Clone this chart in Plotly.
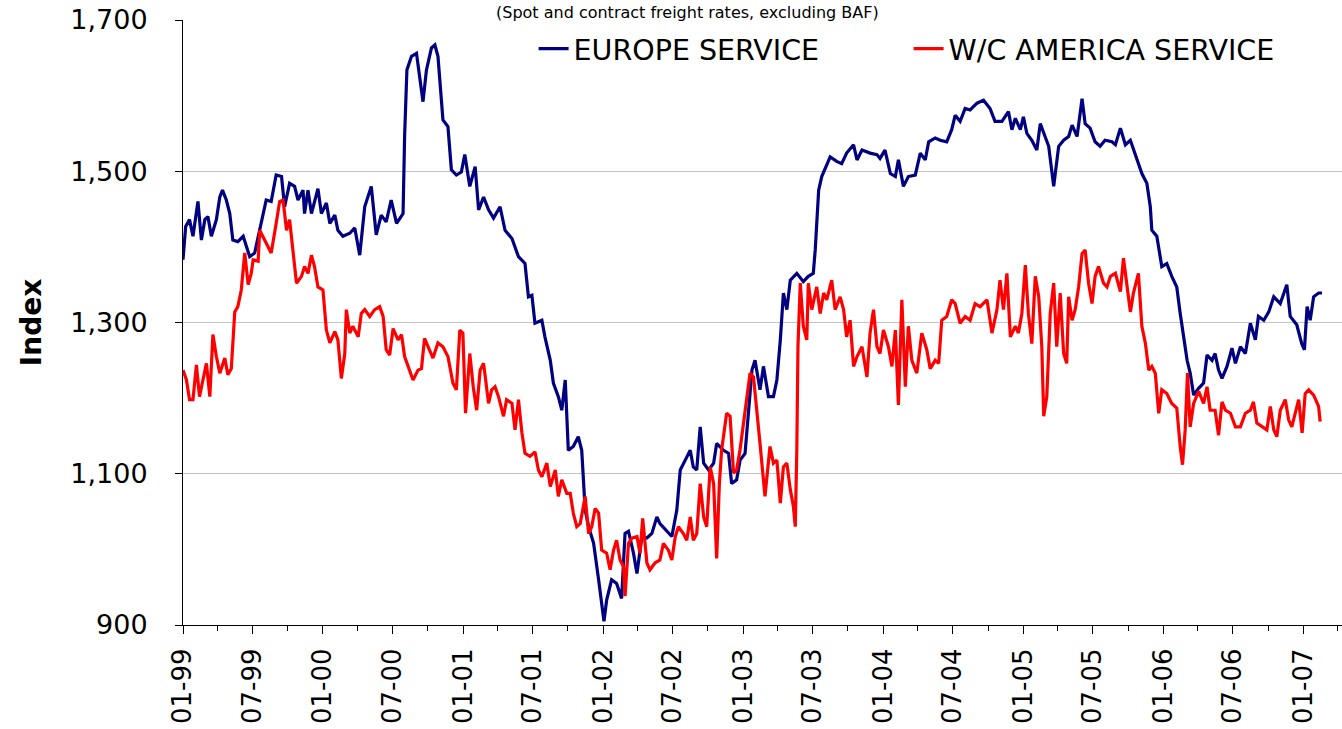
import pandas as pd
import plotly.graph_objects as go

BASE_DATE = "1999-01-01"
TITLE_TEXT = "(Spot and contract freight rates, excluding BAF)"
Y_TITLE = "Index"
SERIES_NAMES = ["EUROPE SERVICE", "W/C AMERICA SERVICE"]
Y_TICKS = [900, 1100, 1300, 1500, 1700]

# Europe service: days since 1 Jan 1999 and index values
eu_day = [0, 7, 17, 26, 39, 48, 57, 65, 74, 87, 96, 103, 113, 122, 130, 143, 157, 174, 187, 200,
          217, 230, 243, 257, 265, 278, 291, 300, 313, 317, 326, 335, 352, 361, 374, 383, 396, 404,
          417, 435, 448, 461, 474, 491, 504, 517, 530, 543, 557, 574, 578, 584, 596, 609, 617, 626,
          635, 648, 657, 665, 678, 691, 700, 713, 726, 735, 748, 762, 771, 784, 797, 810, 827, 840,
          858, 875, 892, 901, 910, 918, 936, 944, 958, 966, 979, 988, 997, 1005, 1018, 1031, 1040,
          1049, 1058, 1071, 1084, 1092, 1098, 1105, 1118, 1131, 1144, 1153, 1162, 1175, 1184, 1197,
          1210, 1223, 1236, 1244, 1258, 1275, 1288, 1297, 1310, 1323, 1331, 1340, 1349, 1358, 1371,
          1384, 1392, 1410, 1423, 1431, 1444, 1453, 1466, 1475, 1484, 1492, 1505, 1514, 1527, 1540,
          1549, 1558, 1566, 1575, 1584, 1601, 1618, 1631, 1644, 1649, 1653, 1658, 1666, 1675, 1688,
          1705, 1718, 1731, 1749, 1758, 1771, 1792, 1810, 1818, 1831, 1845, 1858, 1866, 1879, 1892,
          1910, 1923, 1936, 1945, 1962, 1975, 1992, 2005, 2014, 2027, 2040, 2053, 2071, 2088, 2105,
          2118, 2136, 2153, 2162, 2171, 2184, 2192, 2201, 2214, 2227, 2236, 2249, 2258, 2271, 2284,
          2297, 2310, 2319, 2332, 2345, 2353, 2366, 2379, 2392, 2405, 2423, 2432, 2445, 2458, 2471,
          2479, 2488, 2501, 2514, 2523, 2527, 2540, 2553, 2566, 2579, 2592, 2601, 2610, 2619, 2627,
          2636, 2649, 2662, 2671, 2684, 2692, 2701, 2710, 2723, 2736, 2745, 2758, 2771, 2784, 2797,
          2805, 2819, 2832, 2845, 2862, 2879, 2888, 2905, 2918, 2925, 2932, 2940, 2949, 2962, 2971]
eu_val = [1383, 1427, 1436, 1414, 1460, 1409, 1436, 1440, 1414, 1436, 1466, 1475, 1462, 1444, 1409,
          1407, 1414, 1387, 1392, 1422, 1462, 1460, 1495, 1493, 1453, 1484, 1480, 1462, 1475, 1444,
          1475, 1444, 1477, 1444, 1458, 1431, 1442, 1422, 1414, 1418, 1425, 1389, 1453, 1480, 1416,
          1442, 1433, 1462, 1431, 1444, 1546, 1634, 1652, 1656, 1625, 1592, 1634, 1663, 1667, 1652,
          1568, 1559, 1502, 1495, 1499, 1522, 1480, 1506, 1449, 1466, 1449, 1438, 1453, 1422, 1411,
          1387, 1378, 1334, 1336, 1299, 1303, 1281, 1250, 1220, 1202, 1184, 1224, 1131, 1136, 1149,
          1131, 1052, 1030, 1008, 960, 929, 905, 933, 960, 955, 935, 1021, 1024, 995, 968, 1017,
          1015, 1021, 1043, 1034, 1026, 1017, 1052, 1105, 1118, 1131, 1109, 1105, 1162, 1114, 1105,
          1114, 1140, 1131, 1127, 1087, 1092, 1118, 1127, 1184, 1237, 1250, 1211, 1242, 1202, 1202,
          1224, 1277, 1339, 1317, 1356, 1365, 1354, 1361, 1365, 1396, 1431, 1475, 1493, 1504, 1519,
          1513, 1510, 1524, 1535, 1515, 1528, 1524, 1522, 1517, 1528, 1497, 1493, 1515, 1480, 1493,
          1495, 1524, 1515, 1539, 1544, 1541, 1539, 1555, 1574, 1566, 1583, 1581, 1590, 1594, 1583,
          1566, 1566, 1579, 1555, 1570, 1555, 1572, 1550, 1541, 1528, 1563, 1546, 1533, 1480, 1533,
          1541, 1546, 1561, 1546, 1596, 1563, 1557, 1539, 1533, 1541, 1539, 1535, 1557, 1535, 1541,
          1530, 1515, 1497, 1484, 1453, 1422, 1414, 1374, 1378, 1361, 1347, 1312, 1277, 1250, 1233,
          1204, 1213, 1220, 1257, 1250, 1259, 1237, 1226, 1242, 1266, 1246, 1268, 1259, 1299, 1277,
          1308, 1303, 1314, 1334, 1325, 1350, 1308, 1297, 1272, 1264, 1321, 1303, 1334, 1339, 1339]

# W/C America service: days since 1 Jan 1999 and index values
am_day = [0, 9, 17, 26, 35, 43, 52, 61, 70, 78, 87, 96, 109, 117, 126, 130, 135, 143, 152, 161,
          170, 178, 183, 196, 200, 213, 230, 243, 252, 261, 270, 278, 287, 296, 309, 317, 326, 335,
          343, 352, 365, 374, 383, 396, 404, 413, 422, 426, 435, 443, 457, 465, 474, 487, 500, 513,
          522, 530, 539, 548, 561, 570, 578, 587, 600, 613, 622, 630, 643, 652, 665, 678, 691, 704,
          713, 722, 730, 737, 748, 757, 766, 775, 784, 797, 805, 814, 823, 836, 844, 858, 866, 875,
          884, 892, 905, 918, 927, 936, 949, 958, 971, 979, 988, 1001, 1010, 1018, 1027, 1036, 1049,
          1058, 1066, 1075, 1084, 1092, 1105, 1114, 1123, 1131, 1140, 1149, 1153, 1162, 1171, 1184,
          1192, 1199, 1210, 1218, 1231, 1244, 1253, 1266, 1275, 1284, 1292, 1305, 1314, 1323, 1331,
          1340, 1349, 1358, 1366, 1375, 1384, 1392, 1399, 1405, 1418, 1427, 1436, 1444, 1453, 1462,
          1471, 1479, 1488, 1497, 1505, 1518, 1531, 1540, 1549, 1558, 1566, 1575, 1584, 1592, 1597,
          1601, 1604, 1610, 1618, 1627, 1631, 1640, 1653, 1662, 1671, 1679, 1692, 1701, 1714, 1723,
          1731, 1740, 1749, 1758, 1771, 1784, 1792, 1801, 1810, 1818, 1827, 1840, 1849, 1858, 1866,
          1875, 1884, 1892, 1901, 1914, 1927, 1940, 1949, 1962, 1971, 1979, 1992, 2005, 2014, 2027,
          2040, 2053, 2066, 2079, 2097, 2110, 2123, 2131, 2140, 2149, 2158, 2171, 2179, 2188, 2197,
          2205, 2214, 2223, 2232, 2240, 2245, 2253, 2262, 2271, 2279, 2288, 2297, 2305, 2310, 2319,
          2327, 2336, 2345, 2353, 2362, 2371, 2379, 2388, 2401, 2410, 2419, 2432, 2445, 2453, 2462,
          2471, 2479, 2492, 2501, 2510, 2519, 2527, 2536, 2545, 2553, 2566, 2579, 2592, 2601, 2607,
          2614, 2620, 2627, 2636, 2649, 2662, 2671, 2679, 2692, 2701, 2710, 2719, 2732, 2745, 2758,
          2771, 2784, 2792, 2801, 2814, 2827, 2836, 2845, 2853, 2862, 2875, 2884, 2892, 2901, 2910,
          2919, 2927, 2936, 2949, 2962, 2966]
am_val = [1237, 1224, 1198, 1198, 1244, 1202, 1224, 1246, 1202, 1284, 1255, 1233, 1253, 1231, 1239,
          1277, 1314, 1321, 1343, 1392, 1350, 1365, 1383, 1381, 1422, 1409, 1392, 1431, 1460, 1462,
          1422, 1436, 1392, 1352, 1361, 1374, 1365, 1389, 1374, 1347, 1343, 1290, 1273, 1288, 1277,
          1226, 1259, 1317, 1286, 1295, 1281, 1312, 1317, 1308, 1317, 1321, 1308, 1264, 1257, 1292,
          1277, 1284, 1255, 1242, 1224, 1237, 1239, 1279, 1264, 1253, 1273, 1268, 1255, 1220, 1211,
          1290, 1286, 1180, 1259, 1215, 1184, 1237, 1246, 1193, 1211, 1215, 1202, 1176, 1198, 1193,
          1158, 1198, 1154, 1127, 1123, 1129, 1105, 1096, 1114, 1083, 1105, 1070, 1092, 1074, 1074,
          1048, 1030, 1034, 1070, 1021, 1030, 1054, 1048, 999, 995, 973, 999, 1012, 986, 977, 938,
          1008, 1015, 1017, 995, 1041, 982, 973, 982, 986, 1008, 999, 986, 1017, 1030, 1021, 1012,
          1043, 1012, 1021, 1087, 1043, 1030, 1109, 1087, 988, 1087, 1132, 1180, 1176, 1101, 1105,
          1132, 1167, 1198, 1233, 1228, 1176, 1140, 1070, 1136, 1114, 1118, 1061, 1109, 1114, 1079,
          1057, 1030, 1131, 1268, 1352, 1295, 1277, 1352, 1317, 1347, 1312, 1339, 1330, 1356, 1317,
          1334, 1317, 1281, 1303, 1242, 1255, 1268, 1228, 1286, 1317, 1268, 1259, 1290, 1268, 1242,
          1290, 1191, 1330, 1215, 1295, 1250, 1233, 1286, 1264, 1239, 1250, 1246, 1303, 1308, 1330,
          1325, 1299, 1308, 1303, 1325, 1321, 1330, 1286, 1317, 1356, 1317, 1365, 1281, 1295, 1286,
          1312, 1376, 1312, 1272, 1361, 1334, 1268, 1176, 1202, 1312, 1352, 1268, 1339, 1259, 1246,
          1334, 1303, 1317, 1347, 1391, 1396, 1352, 1325, 1361, 1374, 1352, 1347, 1361, 1365, 1341,
          1385, 1347, 1314, 1339, 1365, 1295, 1273, 1237, 1242, 1233, 1180, 1211, 1206, 1193, 1187,
          1136, 1112, 1158, 1233, 1162, 1193, 1209, 1193, 1215, 1184, 1184, 1151, 1195, 1184, 1180,
          1162, 1162, 1180, 1184, 1195, 1167, 1162, 1158, 1189, 1158, 1149, 1184, 1198, 1171, 1162,
          1180, 1198, 1154, 1206, 1211, 1204, 1189, 1169]

base = pd.Timestamp(BASE_DATE)
eu_dates = base + pd.to_timedelta(eu_day, unit="D")
am_dates = base + pd.to_timedelta(am_day, unit="D")

FONT = "DejaVu Sans, Verdana, sans-serif"

fig = go.Figure()
fig.add_trace(go.Scatter(x=eu_dates, y=eu_val, mode="lines", name=SERIES_NAMES[0],
                         line=dict(color="#000080", width=3.2)))
fig.add_trace(go.Scatter(x=am_dates, y=am_val, mode="lines", name=SERIES_NAMES[1],
                         line=dict(color="#FF0000", width=3.2)))

fig.update_layout(
    width=1342, height=729,
    margin=dict(l=183, r=0, t=20, b=104),
    paper_bgcolor="white", plot_bgcolor="white",
    font=dict(family=FONT, size=27, color="black"),
    showlegend=True,
    legend=dict(orientation="h", x=0.3025, xanchor="left", y=0.952, yanchor="middle",
                font=dict(family=FONT, size=28.5, color="black"),
                bgcolor="rgba(0,0,0,0)", entrywidth=330, entrywidthmode="pixels",
                traceorder="normal"),
    xaxis=dict(type="date", range=["1999-01-01", "2007-04-12"],
               tick0="1999-01-01", dtick="M6", tickformat="%m-%y",
               tickangle=-90, ticks="outside", ticklen=8, tickcolor="black",
               showline=True, linecolor="black", linewidth=1, showgrid=False,
               zeroline=False, ticklabelstandoff=4, automargin=False,
               tickfont=dict(family=FONT, size=26, color="black"),
               minor=dict(dtick="M3", ticks="outside", ticklen=5, tickcolor="black",
                          showgrid=False)),
    yaxis=dict(range=[900, 1700], tickvals=Y_TICKS, tickformat=",",
               ticks="outside", ticklen=7, tickcolor="black",
               showline=True, linecolor="black", linewidth=1,
               showgrid=True, gridcolor="#c4c4c4", gridwidth=1, zeroline=False,
               ticklabelstandoff=22, automargin=False,
               tickfont=dict(family=FONT, size=27, color="black"),
               title=dict(text=Y_TITLE, standoff=20,
                          font=dict(family="DejaVu Sans", size=28, color="black",
                                    weight="bold"))),
)

fig.add_annotation(text=TITLE_TEXT, xref="paper", yref="paper",
                   x=0.4357, y=(625 - 1) / 605, xanchor="center", yanchor="top",
                   showarrow=False, font=dict(family=FONT, size=16, color="black"))

fig.write_html("out.html", config={"displayModeBar": False},
               post_script="document.body.style.margin='0';")
